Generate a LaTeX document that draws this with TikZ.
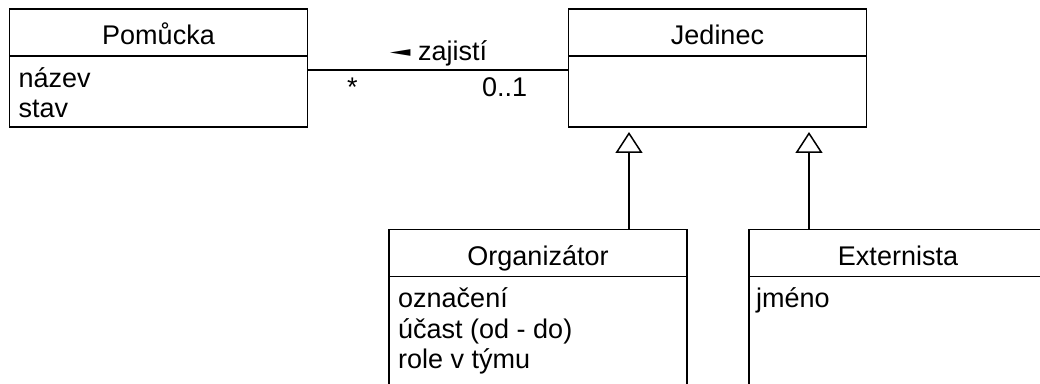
\documentclass[tikz,border=0pt]{standalone}
\usepackage{fontspec}
\usepackage{graphicx}
\setmainfont{Liberation Sans}
\newfontfamily\symfont{DejaVu Sans}
\usetikzlibrary{positioning,arrows.meta}

\newcommand{\umlfont}{\fontsize{27}{30.5}\selectfont\lineskiplimit=-50pt}
\newcommand{\fieldstrut}{\rule{0pt}{26pt}}

\tikzset{
  classhead/.style={draw, line width=1.9pt, outer sep=0pt, inner sep=0pt,
    minimum width=298pt, minimum height=47pt, text height=24pt, text depth=0pt, font=\umlfont},
  classbody/.style={draw, line width=1.9pt, outer sep=0pt, inner sep=0pt,
    minimum width=298pt, minimum height=71pt},
  fields/.style={anchor=north west, inner sep=0pt, xshift=9pt, yshift=-5pt, align=left, font=\umlfont},
  assoc/.style={line width=1.9pt},
  gen/.style={line width=1.5pt, -{Triangle[open, length=21pt, width=27pt]}, shorten >=5pt},
  mult/.style={font=\umlfont, anchor=base, inner sep=0pt},
}

\begin{document}
\begin{tikzpicture}[x=1pt, y=1pt]
    \useasboundingbox (0,0) rectangle (1040,383);

    % Pomucka
    \node[classhead] (pomhead) at (158.5,350.5) {Pomůcka};
    \node[classbody, below=0pt of pomhead,
      label={[fields]north west:{\fieldstrut název\\stav}}] (pombody) {};

    % Jedinec
    \node[classhead] (jedhead) at (717.5,350.5) {Jedinec};
    \node[classbody, below=0pt of jedhead] (jedbody) {};

    % Organizator
    \node[classhead] (orghead) at (538,130) {Organizátor};
    \node[classbody, below=0pt of orghead, minimum height=140pt,
      label={[fields]north west:{\fieldstrut označení\\účast (od - do)\\role v týmu}}] (orgbody) {};

    % Externista
    \node[classhead] (exthead) at (898,130) {Externista};
    \node[classbody, below=0pt of exthead, minimum height=140pt,
      label={[fields, xshift=-2pt]north west:{\fieldstrut jméno}}] (extbody) {};

    % asociace
    \draw[assoc] ([yshift=-14pt]pombody.north east) -- ([yshift=-14pt]jedbody.north west)
      node[mult, pos=.502, yshift=9pt] {\raisebox{4pt}{\symfont\scalebox{1}[0.5]{◄}} zajistí}
      node[mult, pos=.172, yshift=-27pt] {*}
      node[mult, pos=.755, yshift=-27pt] {0..1};

    % generalizace
    \draw[gen] ([xshift=91pt]orghead.north) -- ([xshift=91pt]orghead.north |- jedbody.south);
    \draw[gen] ([xshift=-89pt]exthead.north) -- ([xshift=-89pt]exthead.north |- jedbody.south);
\end{tikzpicture}
\end{document}
